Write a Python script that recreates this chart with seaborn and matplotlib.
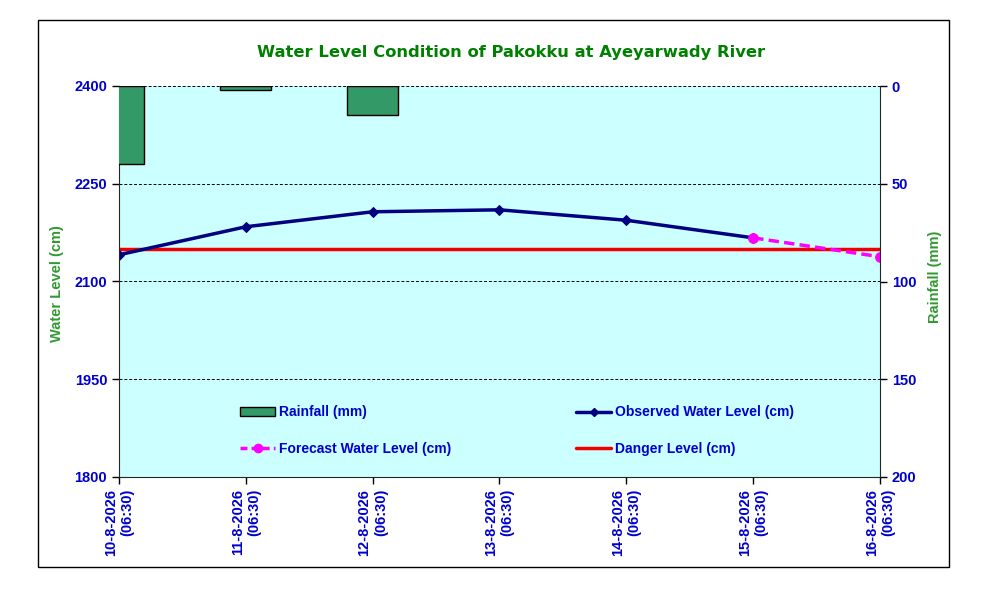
import numpy as np
import pandas as pd
import seaborn as sns
import matplotlib.pyplot as plt
from matplotlib.patches import Rectangle, Patch
from matplotlib.lines import Line2D

dates = ['10-8-2026', '11-8-2026', '12-8-2026', '13-8-2026', '14-8-2026', '15-8-2026', '16-8-2026']
times = ['(06:30)'] * 7
observed = [2141, 2184, 2207, 2210, 2194, 2167]
forecast_days = [5, 6]
forecast = [2167, 2138]
danger = [2150] * 7
rainfall = [40, 2, 15, 0, 0, 0, 0]

pos = list(range(len(dates)))
labels = [d + '\n' + t for d, t in zip(dates, times)]

blue = '#0000CC'
green_txt = '#339933'

sns.set_style('white')
plt.rcParams['font.family'] = ['Liberation Sans', 'DejaVu Sans']

fig = plt.figure(figsize=(10.04, 5.99), dpi=100)
fig.patches.append(Rectangle((38 / 1004, 1 - 567 / 599), 911 / 1004, 547 / 599,
                             transform=fig.transFigure, fill=False, edgecolor='black', lw=1))

ax = fig.add_axes([119 / 1004, 1 - 477 / 599, 761 / 1004, 391 / 599])
ax.set_facecolor('#CCFFFF')
ax2 = ax.twinx()

# rainfall bars on right axis (inverted)
rain_df = pd.DataFrame({'pos': pos, 'rain': rainfall})
sns.barplot(data=rain_df, x='pos', y='rain', native_scale=True, width=0.4,
            color='#339966', saturation=1, edgecolor='black', linewidth=1, ax=ax2)
for p in ax2.patches:
    if p.get_height() == 0:
        p.set_visible(False)
ax2.set_ylim(200, 0)
ax2.set_yticks([0, 50, 100, 150, 200])

# water levels on left axis
obs_df = pd.DataFrame({'pos': pos[:len(observed)], 'level': observed})
fc_df = pd.DataFrame({'pos': forecast_days, 'level': forecast})
dng_df = pd.DataFrame({'pos': pos, 'level': danger})

sns.lineplot(data=dng_df, x='pos', y='level', color='#EE0000', lw=2.5, ax=ax)
sns.lineplot(data=obs_df, x='pos', y='level', color='#000080', lw=2.5,
             marker='D', markersize=5, markeredgecolor='#000080', ax=ax)
sns.lineplot(data=fc_df, x='pos', y='level', color='#FF00FF', lw=2.5,
             linestyle=(0, (3, 1.5)), marker='o', markersize=7, markeredgecolor='#FF00FF', ax=ax)

ax.set_xlim(0, 6)
ax.set_ylim(1800, 2400)
ax.set_yticks([1800, 1950, 2100, 2250, 2400])
for yv in [1950, 2100, 2250, 2400]:
    ax.axhline(yv, color='black', lw=0.7, ls=(0, (3, 2)), zorder=1)

ax.set_xticks(pos)
ax.set_xticklabels(labels, rotation=90, multialignment='right')

for a in (ax, ax2):
    a.tick_params(axis='both', direction='out', length=5, width=1, color='black',
                  labelsize=10.5, labelcolor=blue)
    for lab in a.get_xticklabels() + a.get_yticklabels():
        lab.set_fontweight('bold')
    for s in a.spines.values():
        s.set_visible(False)
ax.spines['left'].set_visible(True)
ax.spines['bottom'].set_visible(True)
ax2.spines['right'].set_visible(True)
ax.tick_params(axis='y', left=True)
ax.tick_params(axis='x', bottom=True)
ax2.tick_params(axis='y', right=True)

ax.set_xlabel('')
ax.set_ylabel('')
ax2.set_xlabel('')
ax2.set_ylabel('')

fig.text(57 / 1004, 1 - 284 / 599, 'Water Level (cm)', rotation=90, color=green_txt,
         fontsize=10.5, fontweight='bold', ha='center', va='center')
fig.text(935 / 1004, 1 - 277 / 599, 'Rainfall (mm)', rotation=90, color=green_txt,
         fontsize=10.5, fontweight='bold', ha='center', va='center')
fig.text(511 / 1004, 1 - 53 / 599, 'Water Level Condition of Pakokku at Ayeyarwady River',
         color='#008000', fontsize=11.8, fontweight='bold', family='DejaVu Sans',
         ha='center', va='center')

handles = [
    Patch(facecolor='#339966', edgecolor='black', lw=1),
    Line2D([], [], color='#FF00FF', lw=2.5, ls=(0, (2, 1.2)), marker='o', markersize=6),
    Line2D([], [], color='#000080', lw=2.5, marker='D', markersize=4),
    Line2D([], [], color='#EE0000', lw=2.5),
]
names = ['Rainfall (mm)', 'Forecast Water Level (cm)', 'Observed Water Level (cm)', 'Danger Level (cm)']
leg = ax2.legend(handles, names, ncol=2, loc='upper left', bbox_to_anchor=(0.143, 0.215),
                 frameon=False, fontsize=10, handlelength=2.5, handleheight=0.6,
                 handletextpad=0.3, columnspacing=9.0, labelspacing=1.6)
for t in leg.get_texts():
    t.set_color(blue)
    t.set_fontweight('bold')

fig.savefig('out.png', dpi=100)
